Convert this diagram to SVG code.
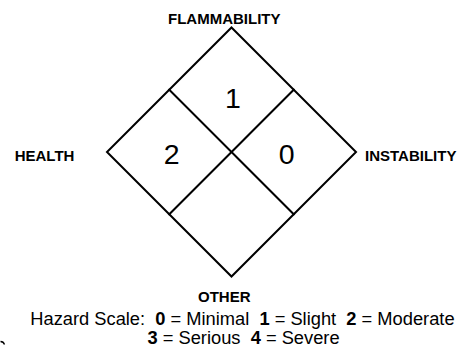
<svg xmlns="http://www.w3.org/2000/svg" width="459" height="348" viewBox="0 0 459 348">
  <style>
    .label { font-family: "Liberation Sans", Arial, sans-serif; font-weight: bold; font-size: 15px; fill: #000; }
    .digit { font-family: "Liberation Sans", Arial, sans-serif; font-size: 28.5px; fill: #000; text-anchor: middle; }
    .scale { font-family: "Liberation Sans", Arial, sans-serif; font-size: 18.3px; fill: #000; white-space: pre; }
    .b { font-weight: bold; }
    .line { fill: none; stroke: #000; stroke-width: 2; stroke-linejoin: miter; stroke-linecap: square; }
  </style>
  <rect x="0" y="0" width="459" height="348" fill="#fff"/>
  <g id="diamond">
    <polygon class="line" points="231.5,27.5 356,152 231.5,276.5 107,152"/>
    <line class="line" x1="169.25" y1="89.75" x2="293.75" y2="214.25"/>
    <line class="line" x1="293.75" y1="89.75" x2="169.25" y2="214.25"/>
  </g>
  <g id="flammability">
    <text class="label" x="168" y="24">FLAMMABILITY</text>
    <text class="digit" x="233" y="108.3">1</text>
  </g>
  <g id="health">
    <text class="label" x="14.7" y="160.7">HEALTH</text>
    <text class="digit" x="171.7" y="164.3">2</text>
  </g>
  <g id="instability">
    <text class="label" x="365" y="160.7">INSTABILITY</text>
    <text class="digit" x="286.7" y="164.3">0</text>
  </g>
  <g id="other">
    <text class="label" x="198" y="301.7">OTHER</text>
  </g>
  <g id="legend">
    <text class="scale" x="30.3" y="325" xml:space="preserve">Hazard Scale:  <tspan class="b">0</tspan> = Minimal  <tspan class="b">1</tspan> = Slight  <tspan class="b">2</tspan> = Moderate</text>
    <text class="scale" x="147.5" y="344.3" xml:space="preserve"><tspan class="b">3</tspan> = Serious  <tspan class="b">4</tspan> = Severe</text>
    <path d="M0.5,341.5 Q3.5,341.5 4.5,344.5" fill="none" stroke="#000" stroke-width="1.3"/>
  </g>
</svg>
